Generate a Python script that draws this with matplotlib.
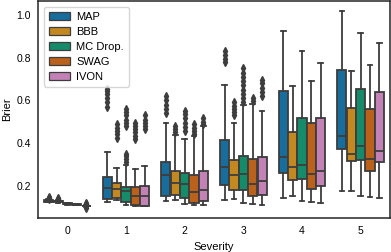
import colorsys
import numpy as np
import matplotlib
matplotlib.use("Agg")
import matplotlib.pyplot as plt
from matplotlib.patches import Patch

# data (rows: methods, cols: severity 0..5)
severity = [0, 1, 2, 3, 4, 5]
methods = ["MAP", "BBB", "MC Drop.", "SWAG", "IVON"]

med = [[0.129, 0.189, 0.251, 0.287, 0.336, 0.433],
       [0.128, 0.186, 0.212, 0.251, 0.287, 0.347],
       [0.115, 0.174, 0.208, 0.254, 0.298, 0.387],
       [0.112, 0.153, 0.171, 0.208, 0.256, 0.326],
       [0.105, 0.153, 0.178, 0.223, 0.271, 0.364]]
q1 = [[0.126, 0.140, 0.150, 0.205, 0.259, 0.372],
      [0.125, 0.143, 0.155, 0.181, 0.225, 0.318],
      [0.114, 0.122, 0.143, 0.178, 0.233, 0.321],
      [0.110, 0.112, 0.119, 0.153, 0.186, 0.271],
      [0.103, 0.107, 0.127, 0.155, 0.197, 0.313]]
q3 = [[0.132, 0.239, 0.310, 0.414, 0.642, 0.740],
      [0.130, 0.215, 0.267, 0.321, 0.453, 0.566],
      [0.117, 0.194, 0.259, 0.340, 0.519, 0.654],
      [0.114, 0.194, 0.251, 0.324, 0.494, 0.557],
      [0.107, 0.200, 0.270, 0.336, 0.518, 0.639]]
wlo = [[0.122, 0.122, 0.127, 0.135, 0.143, 0.174],
       [0.121, 0.132, 0.135, 0.140, 0.150, 0.174],
       [0.112, 0.112, 0.116, 0.119, 0.127, 0.150],
       [0.108, 0.107, 0.112, 0.115, 0.122, 0.146],
       [0.100, 0.104, 0.112, 0.112, 0.119, 0.143]]
whi = [[0.136, 0.360, 0.492, 0.670, 0.926, 1.019],
       [0.133, 0.285, 0.437, 0.492, 0.665, 0.735],
       [0.119, 0.298, 0.419, 0.577, 0.833, 0.915],
       [0.116, 0.279, 0.433, 0.581, 0.690, 0.766],
       [0.110, 0.293, 0.479, 0.549, 0.775, 0.867]]
fliers = [
    [[0.139, 0.142, 0.145], [0.57, 0.59, 0.61, 0.63, 0.645, 0.655],
     [0.54, 0.56, 0.58, 0.60, 0.62], [0.78, 0.795, 0.81, 0.83], [], []],
    [[0.136, 0.139, 0.142], [0.425, 0.44, 0.455, 0.47, 0.49],
     [0.45, 0.465, 0.478], [0.53, 0.545, 0.56, 0.575, 0.59], [], []],
    [[], [0.31, 0.325, 0.34, 0.35, 0.478, 0.495, 0.51, 0.53, 0.545, 0.56],
     [0.455, 0.475, 0.495, 0.515, 0.535, 0.552],
     [0.59, 0.61, 0.63, 0.65, 0.67, 0.69, 0.71, 0.73, 0.75], [], []],
    [[], [0.42, 0.435, 0.45, 0.465, 0.48, 0.495],
     [0.44, 0.455, 0.47, 0.49], [0.595, 0.61], [], []],
    [[0.095, 0.113, 0.116, 0.119], [0.465, 0.48, 0.495, 0.51, 0.53],
     [0.487, 0.50, 0.515], [0.62, 0.64, 0.66, 0.68, 0.695], [], []],
]

base_colors = ["#0173b2", "#de8f05", "#029e73", "#d55e00", "#cc78bc"]


def desat(c, prop=0.75):
    r, g, b = matplotlib.colors.to_rgb(c)
    h, l, s = colorsys.rgb_to_hls(r, g, b)
    return colorsys.hls_to_rgb(h, l, s * prop)


colors = [desat(c) for c in base_colors]
gray = "#3d3d3d"
lw = 1.3

plt.rcParams["font.family"] = ["Liberation Sans", "DejaVu Sans"]
plt.rcParams["font.size"] = 8

fig = plt.figure(figsize=(3.91, 2.52), dpi=100)
ax = fig.add_axes([38 / 391, 34 / 252, 352 / 391, 217 / 252])

n = len(methods)
each = 0.8 / n
for j, m in enumerate(methods):
    offs = -0.4 + each * (j + 0.5)
    stats = []
    for i, s in enumerate(severity):
        stats.append(dict(med=med[j][i], q1=q1[j][i], q3=q3[j][i],
                          whislo=wlo[j][i], whishi=whi[j][i],
                          fliers=fliers[j][i]))
    pos = [s + offs for s in severity]
    ax.bxp(stats, positions=pos, widths=each * 0.98, patch_artist=True,
           manage_ticks=False,
           boxprops=dict(facecolor=colors[j], edgecolor=gray, linewidth=lw),
           medianprops=dict(color=gray, linewidth=lw),
           whiskerprops=dict(color=gray, linewidth=lw),
           capprops=dict(color=gray, linewidth=lw),
           flierprops=dict(marker="d", markerfacecolor=gray,
                           markeredgecolor=gray, markersize=4))

ax.set_xlim(-0.5, 5.5)
ax.set_ylim(0.049, 1.065)
ax.set_xticks(severity)
ax.set_xticklabels([str(s) for s in severity])
ax.set_yticks([0.2, 0.4, 0.6, 0.8, 1.0])
ax.tick_params(length=0, pad=6, labelsize=7.5)
ax.tick_params(axis="y", pad=5)
for sp in ax.spines.values():
    sp.set_color("#262626")
    sp.set_linewidth(1.1)
ax.set_xlabel("Severity", labelpad=4)
ax.set_ylabel("Brier", labelpad=3)

handles = [Patch(facecolor=c, edgecolor=gray, linewidth=0.9, label=m)
           for c, m in zip(colors, methods)]
ax.legend(handles=handles, loc="upper left", frameon=True,
          handlelength=1.9, handleheight=0.7, labelspacing=0.45,
          handletextpad=0.6, borderpad=0.45, fontsize=8,
          edgecolor="#cccccc", fancybox=True, borderaxespad=0.5)

fig.savefig("out.png", dpi=100)
